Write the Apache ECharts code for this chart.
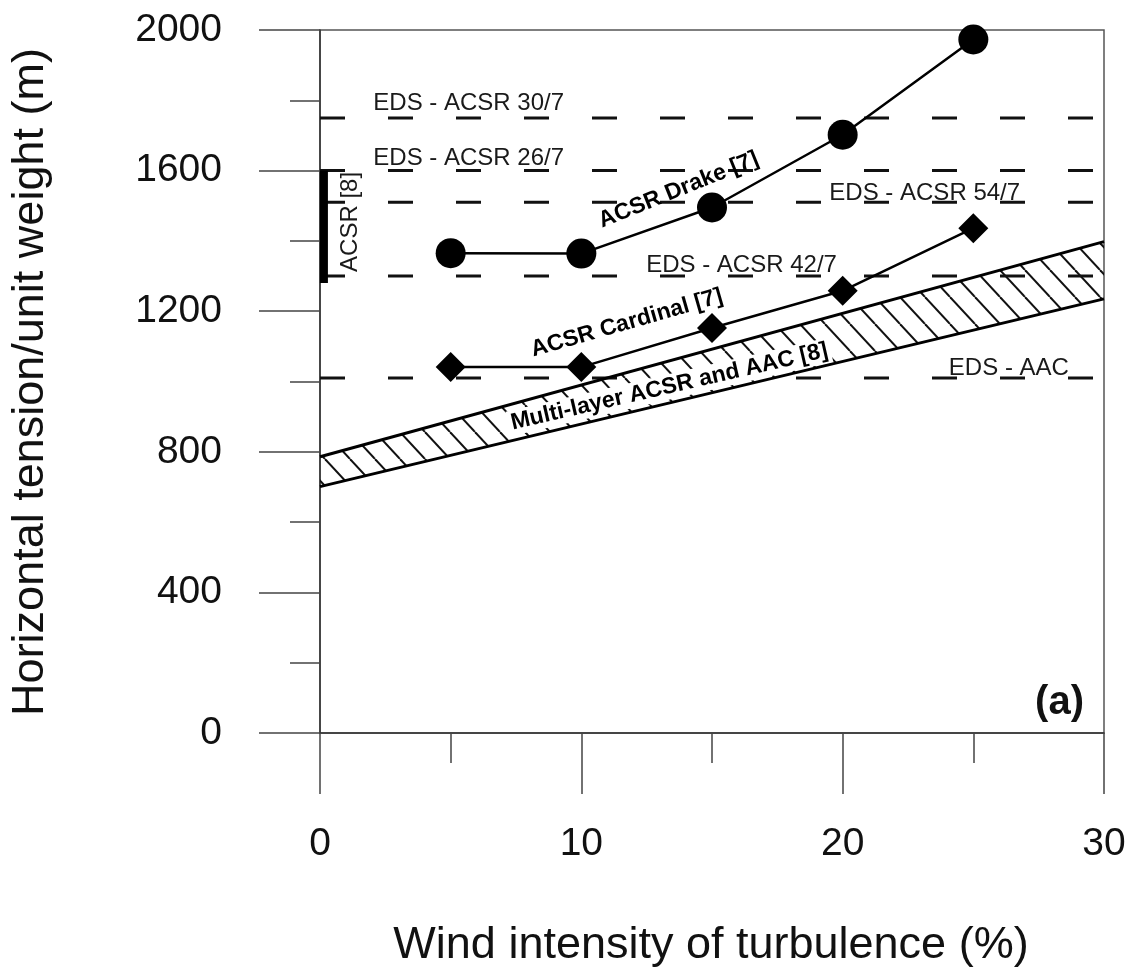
<!DOCTYPE html>
<html><head><meta charset="utf-8">
<script src="https://cdn.jsdelivr.net/npm/echarts@6/dist/echarts.min.js"></script>
<style>html,body{margin:0;padding:0;background:#fff}#c{width:1125px;height:972px}</style>
</head><body><div id="c"></div>
<script>
// ---- data ----
const xTicks = [0, 10, 20, 30];
const yTicks = [0, 400, 800, 1200, 1600, 2000];
const turbulence = [5, 10, 15, 20, 25];
const drake = [1365, 1364, 1495, 1702, 1973];
const cardinal = [1041, 1041, 1152, 1258, 1436];
const bandX = [0, 30];
const bandLower = [701, 1235];
const bandUpper = [786, 1398];
const edsNames = ['EDS - ACSR 30/7', 'EDS - ACSR 26/7', 'EDS - ACSR 54/7', 'EDS - ACSR 42/7', 'EDS - AAC'];
const edsValues = [1750, 1600, 1510, 1300, 1010];
const acsrRange = [1280, 1600];
const acsrRangeX = 0.15;

// ---- annotation placement (data coordinates) ----
const FONT = '"Liberation Sans", Arial, Helvetica, sans-serif';
const annotations = [
  { text: edsNames[0], at: [5.69, 1792], rotate: 0 },
  { text: edsNames[1], at: [5.69, 1636], rotate: 0 },
  { text: edsNames[2], at: [23.14, 1536], rotate: 0 },
  { text: edsNames[3], at: [16.13, 1331], rotate: 0 },
  { text: edsNames[4], at: [26.36, 1038], rotate: 0 },
  { text: 'ACSR Drake [7]', at: [13.72, 1545], rotate: 22, bold: true },
  { text: 'ACSR Cardinal [7]', at: [11.74, 1166], rotate: 16, bold: true },
  { text: 'Multi-layer ACSR and AAC [8]', at: [13.37, 985], rotate: 13, bold: true, bg: '#fff' },
  { text: 'ACSR [8]', at: [1.15, 1454], rotate: 90 }
];

// hatch pattern
const hatch = document.createElement('canvas');
hatch.width = 25; hatch.height = 27;
const g = hatch.getContext('2d');
g.strokeStyle = '#111'; g.lineWidth = 2;
for (const dx of [-25, 0, 25]) { g.beginPath(); g.moveTo(dx, 0); g.lineTo(dx + 25, 27); g.stroke(); }

const chart = echarts.init(document.getElementById('c'), null, { renderer: 'canvas' });

const series = [];
// hatched band
series.push({
  type: 'custom', silent: true, z: 1,
  data: bandX.map((x, i) => [x, bandLower[i], bandUpper[i]]),
  encode: { x: 0, y: [1, 2] },
  renderItem: function (params, api) {
    const i = params.dataIndex;
    if (i >= bandX.length - 1) return null;
    const pts = [
      api.coord([bandX[i], bandLower[i]]),
      api.coord([bandX[i + 1], bandLower[i + 1]]),
      api.coord([bandX[i + 1], bandUpper[i + 1]]),
      api.coord([bandX[i], bandUpper[i]])
    ];
    return { type: 'polygon', shape: { points: pts }, style: { fill: { image: hatch, repeat: 'repeat' }, stroke: null } };
  }
});
// band edges
[bandLower, bandUpper].forEach(arr => series.push({
  type: 'line', silent: true, z: 3, symbol: 'none',
  data: bandX.map((x, i) => [x, arr[i]]),
  lineStyle: { color: '#000', width: 3 }
}));
// EDS dashed levels
edsValues.forEach(v => series.push({
  type: 'line', silent: true, z: 2, symbol: 'none',
  data: [[xTicks[0], v], [xTicks[xTicks.length - 1], v]],
  lineStyle: { color: '#111', width: 3, type: [25, 43] }
}));
// ACSR [8] range bar
series.push({
  type: 'line', silent: true, z: 3, symbol: 'none',
  data: acsrRange.map(v => [acsrRangeX, v]),
  lineStyle: { color: '#000', width: 8, cap: 'butt' }
});
// Drake
series.push({
  type: 'line', name: 'ACSR Drake [7]', z: 4, silent: true,
  data: turbulence.map((x, i) => [x, drake[i]]),
  symbol: 'circle', symbolSize: 30,
  itemStyle: { color: '#000' },
  lineStyle: { color: '#000', width: 2.5 }
});
// Cardinal
series.push({
  type: 'line', name: 'ACSR Cardinal [7]', z: 4, silent: true,
  data: turbulence.map((x, i) => [x, cardinal[i]]),
  symbol: 'diamond', symbolSize: 30,
  itemStyle: { color: '#000' },
  lineStyle: { color: '#000', width: 2.5 }
});
// text annotations
series.push({
  type: 'scatter', silent: true, z: 10,
  symbolSize: 1, itemStyle: { color: 'transparent' },
  data: annotations.map(a => ({
    name: a.text, value: a.at,
    label: {
      rotate: a.rotate,
      color: a.bold ? '#000' : '#1a1a1a',
      fontWeight: a.bold ? 'bold' : 'normal',
      fontSize: a.bold ? 23 : 24,
      backgroundColor: a.bg || 'transparent',
      padding: a.bg ? [1, 3] : 0
    }
  })),
  label: { show: true, position: 'inside', formatter: '{b}', fontFamily: FONT, fontSize: 24, textBorderWidth: 0, opacity: 1 }
});

const axisCommon = {
  type: 'value',
  axisLine: { show: true, lineStyle: { color: '#333', width: 1.5 } },
  axisTick: { show: true, inside: false, length: 61, lineStyle: { color: '#444', width: 1.5 } },
  minorTick: { show: true, splitNumber: 2, length: 30, lineStyle: { color: '#444', width: 1.5 } },
  splitLine: { show: false },
  minorSplitLine: { show: false },
  axisLabel: { color: '#111', fontFamily: FONT, fontSize: 39, formatter: v => String(v) }
};

chart.setOption({
  animation: false,
  backgroundColor: '#fff',
  grid: { left: 320, right: 21, top: 30, bottom: 239, show: true, borderColor: '#555', borderWidth: 1.5, containLabel: false, outerBoundsMode: 'none' },
  xAxis: Object.assign({}, axisCommon, {
    min: xTicks[0], max: xTicks[xTicks.length - 1], interval: xTicks[1] - xTicks[0],
    axisLabel: Object.assign({}, axisCommon.axisLabel, { margin: 92 })
  }),
  yAxis: Object.assign({}, axisCommon, {
    min: yTicks[0], max: yTicks[yTicks.length - 1], interval: yTicks[1] - yTicks[0],
    axisLabel: Object.assign({}, axisCommon.axisLabel, { margin: 98 })
  }),
  graphic: [
    { type: 'text', x: 31, y: 382, rotation: Math.PI / 2, silent: true,
      style: { text: 'Horizontal tension/unit weight (m)', fontFamily: FONT, fontSize: 45, fill: '#111', align: 'center', verticalAlign: 'middle', textAlign: 'center', textVerticalAlign: 'middle' } },
    { type: 'text', x: 711, y: 946, silent: true,
      style: { text: 'Wind intensity of turbulence (%)', fontFamily: FONT, fontSize: 45, fill: '#111', align: 'center', verticalAlign: 'middle', textAlign: 'center', textVerticalAlign: 'middle' } },
    { type: 'text', x: 1084, y: 703, silent: true,
      style: { text: '(a)', fontFamily: FONT, fontSize: 40, fontWeight: 'bold', fill: '#111', align: 'right', verticalAlign: 'middle', textAlign: 'right', textVerticalAlign: 'middle' } }
  ],
  series: series
});
</script>
</body></html>
